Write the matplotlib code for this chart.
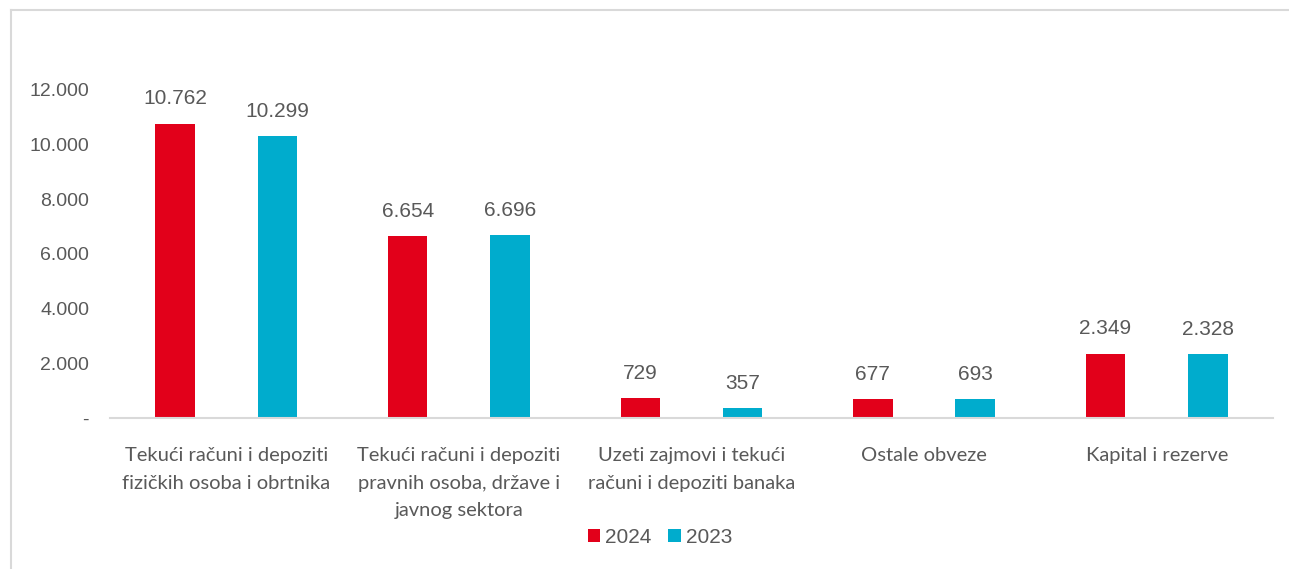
import numpy as np
import matplotlib.pyplot as plt
from matplotlib.lines import Line2D

categories = [
    "Tekući računi i depoziti\nfizičkih osoba i obrtnika",
    "Tekući računi i depoziti\npravnih osoba, države i\njavnog sektora",
    "Uzeti zajmovi i tekući\nračuni i depoziti banaka",
    "Ostale obveze",
    "Kapital i rezerve",
]
values_2024 = [10762, 6654, 729, 677, 2349]
values_2023 = [10299, 6696, 357, 693, 2328]
yticks = [0, 2000, 4000, 6000, 8000, 10000, 12000]
ytick_labels = ["-", "2.000", "4.000", "6.000", "8.000", "10.000", "12.000"]

red = "#E2001A"
cyan = "#00ACCD"
gray = "#595959"

def fmt(v):
    return f"{v:,}".replace(",", ".")

fig = plt.figure(figsize=(12.89, 5.69), dpi=100)
ax = fig.add_axes([0.0853, 0.2654, 0.9023, 0.5766])

x = np.arange(len(categories))
w = 0.17
b1 = ax.bar(x - 0.22, values_2024, w, color=red, label="2024")
b2 = ax.bar(x + 0.22, values_2023, w, color=cyan, label="2023")

for bars, vals in ((b1, values_2024), (b2, values_2023)):
    for rect, v in zip(bars, vals):
        ax.annotate(fmt(v), (rect.get_x() + rect.get_width() / 2, v),
                    xytext=(0, 11), textcoords="offset points",
                    ha="center", va="bottom", fontsize=15, color=gray,
                    family="Liberation Sans")

ax.set_xlim(-0.5, len(categories) - 0.5)
ax.set_ylim(0, 12000)
ax.set_yticks(yticks)
ax.set_yticklabels(ytick_labels, family="Liberation Sans", fontsize=14, color=gray)
ax.set_xticks(x)
ax.set_xticklabels(categories, family="Lato", fontsize=14.5, color=gray,
                   linespacing=1.75, va="top")
ax.tick_params(axis="y", length=0, pad=15)
ax.tick_params(axis="x", length=0, pad=21)

for s in ("top", "right", "left"):
    ax.spines[s].set_visible(False)
ax.spines["bottom"].set_color("#D9D9D9")
ax.spines["bottom"].set_linewidth(1.5)

ax.legend(loc="center", bbox_to_anchor=(0.473, -0.363), ncol=2, frameon=False,
          handlelength=0.6, handleheight=0.6, handletextpad=0.25,
          columnspacing=0.8, prop={"family": "Liberation Sans", "size": 15},
          labelcolor=gray)

# outer frame (top and left edges)
fig.add_artist(Line2D([0.0085, 1.0], [0.982, 0.982], transform=fig.transFigure,
                      color="#D9D9D9", lw=1.5))
fig.add_artist(Line2D([0.0085, 0.0085], [0.0, 0.982], transform=fig.transFigure,
                      color="#D9D9D9", lw=1.5))

fig.savefig("out.png", dpi=100)
